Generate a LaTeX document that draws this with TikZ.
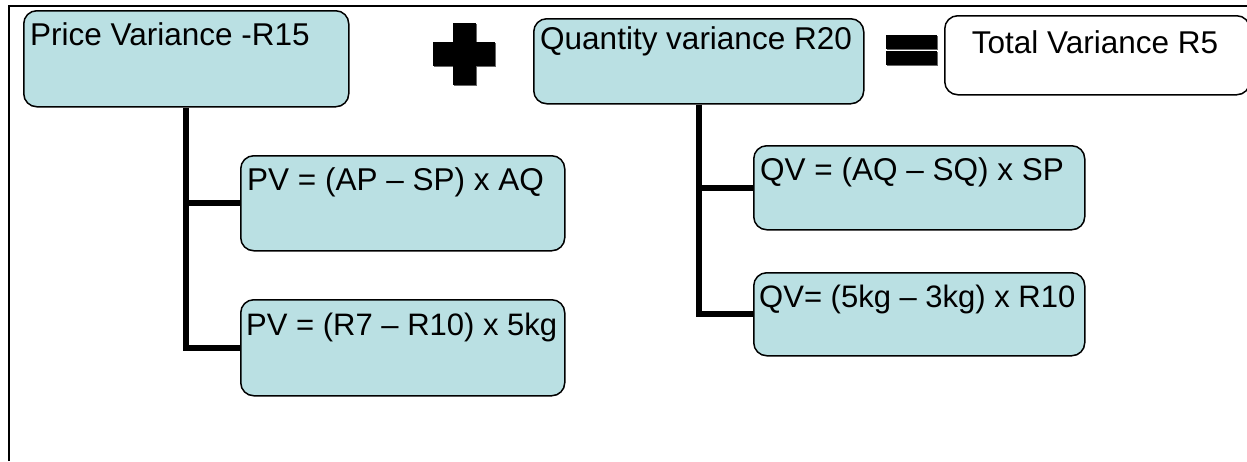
\documentclass[tikz,border=0pt]{standalone}
\usepackage{fontspec}
\setmainfont{Liberation Sans}
\definecolor{boxblue}{HTML}{BAE0E3}
\begin{document}
\begin{tikzpicture}[x=1pt,y=-1pt,
  vbox/.style={draw=black,line width=1.5pt,rounded corners=13pt,fill=boxblue,anchor=north west,inner sep=0pt},
  wbox/.style={vbox,fill=white},
  lbl/.style={anchor=base west,inner sep=0pt,font=\fontsize{31.5}{36}\selectfont},
  conn/.style={line width=6pt,line cap=butt}]
\useasboundingbox (0,0) rectangle (1247,461);
\fill[white] (0,0) rectangle (1247,461);
% frame
\draw[line width=2pt] (9,461) -- (9,6) -- (1250,6);
% boxes
\node[vbox,minimum width=325pt,minimum height=96pt] (p) at (23,10) {};
\node[vbox,minimum width=324pt,minimum height=95pt] (pv1) at (240,155) {};
\node[vbox,minimum width=324pt,minimum height=96pt] (pv2) at (240,299) {};
\node[vbox,minimum width=330pt,minimum height=85pt] (q) at (533,18) {};
\node[vbox,minimum width=331pt,minimum height=84pt] (qv1) at (753,145) {};
\node[vbox,minimum width=331pt,minimum height=83pt] (qv2) at (753,272) {};
\node[wbox,minimum width=305pt,minimum height=79pt] (t) at (944,15) {};
% texts
\node[lbl] (tp) at (30,45) {Price Variance -R15};
\node[lbl] (tpv1) at (247,190) {PV = (AP – SP) x AQ};
\node[lbl,font=\fontsize{31}{36}\selectfont] (tpv2) at (246,335) {PV = (R7 – R10) x 5kg};
\node[lbl] (tq) at (540,49) {Quantity variance R20};
\node[lbl] (tqv1) at (760,180) {QV = (AQ – SQ) x SP};
\node[lbl,font=\fontsize{31}{36}\selectfont] (tqv2) at (759,307) {QV= (5kg – 3kg) x R10};
\node[lbl,anchor=base] (tt) at (1095,53) {Total Variance R5};
% connectors
\draw[conn] (p.south) |- (pv2.west);
\draw[conn] (p.south |- pv1.west) -- (pv1.west);
\draw[conn] (q.south) |- (qv2.west);
\draw[conn] (q.south |- qv1.west) -- (qv1.west);
% plus sign
\fill[black!60] (454,24) rectangle (477,86);
\fill[black!60] (434,43) rectangle (496,67);
\fill[black] (453,23) rectangle (476,85);
\fill[black] (433,42) rectangle (495,66);
% equals sign
\fill[black!60] (887,36) rectangle (938,50);
\fill[black!60] (887,52) rectangle (938,66);
\fill[black] (886,35) rectangle (937,49);
\fill[black] (886,51) rectangle (937,65);
\end{tikzpicture}
\end{document}
